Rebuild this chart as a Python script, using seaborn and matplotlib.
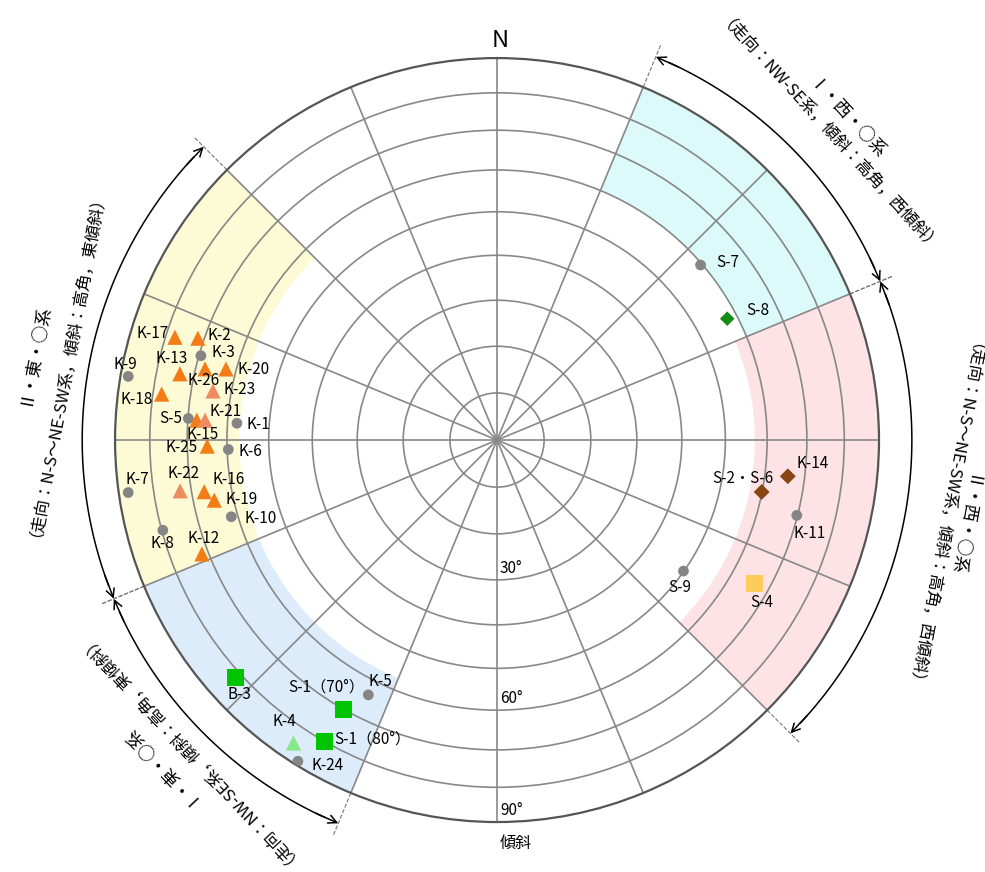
# -*- coding: utf-8 -*-
"""
節理方位の下半球等積投影（シュミットネット）
"""
import numpy as np
import pandas as pd
import matplotlib
matplotlib.use("Agg")
import matplotlib.pyplot as plt
import seaborn as sns

# ===================== 1. データ =====================
names = ["K-17", "K-2", "K-3", "K-13", "K-26", "K-20", "K-23", "K-9", "K-18", "S-5",
         "K-15", "K-21", "K-1", "K-25", "K-6", "K-7", "K-22", "K-16", "K-19", "K-10",
         "K-8", "K-12", "S-7", "S-8", "K-14", "S-2・S-6", "K-11", "S-9", "S-4", "B-3",
         "K-5", "S-1（70°）", "K-4", "S-1（80°）", "K-24"]
azimuth = [287.7, 288.8, 285.9, 281.8, 283.7, 284.7, 279.8, 279.8, 277.8, 274.0,
           273.8, 273.9, 273.7, 268.8, 268.0, 261.9, 260.9, 260.0, 258.0, 253.9,
           254.9, 248.9, 49.3, 62.2, 97.1, 101.1, 104.1, 125.1, 119.1, 227.8,
           206.8, 209.7, 213.9, 209.8, 211.8]
dip = [77.5, 71.6, 69.5, 73.7, 67.6, 62.5, 64.5, 87.7, 77.6, 69.9,
       67.7, 65.6, 57.7, 64.9, 59.7, 87.2, 72.9, 66.8, 64.7, 61.6,
       79.7, 71.7, 59.6, 57.6, 65.7, 59.9, 69.8, 49.9, 66.1, 81.8,
       63.8, 70.1, 85.0, 80.1, 88.8]
kind = ["tri_o", "tri_o", "dot", "tri_o", "tri_o", "tri_o", "tri_s", "dot", "tri_o", "dot",
        "tri_o", "tri_s", "dot", "tri_o", "dot", "dot", "tri_s", "tri_o", "tri_o", "dot",
        "dot", "tri_o", "dot", "dia_g", "dia_b", "dia_b", "dot", "dot", "sq_y", "sq_g",
        "dot", "sq_g", "tri_lg", "sq_g", "dot"]

# 区分（方位範囲と傾斜下限）
sector_start = [22.5, 67.5, 247.5, 202.5]
sector_end = [67.5, 135.0, 315.0, 247.5]
sector_min_dip = [60, 57, 57, 57]
sector_colors = ["#dcfafa", "#fde2e6", "#fdfbd6", "#dcecfb"]
sector_line1 = ["Ⅰ・西・○系", "Ⅱ・西・○系", "Ⅱ・東・○系", "Ⅰ・東・○系"]
sector_line2 = ["（走向：NW-SE系，傾斜：高角，西傾斜）",
                "（走向：N-S〜NE-SW系，傾斜：高角，西傾斜）",
                "（走向：N-S〜NE-SW系，傾斜：高角，東傾斜）",
                "（走向：NW-SE系，傾斜：高角，東傾斜）"]
label_az = [47.5, 100.5, 280.5, 226.8]

grid_dips = [10, 20, 30, 40, 50, 60, 70, 80]
ring_label_dips = [30, 60, 90]


def to_r(d):
    # 等積投影
    return np.sqrt(2) * np.sin(np.deg2rad(np.asarray(d, dtype=float)) / 2)


df = pd.DataFrame({"name": names, "az": azimuth, "dip": dip, "kind": kind})
df["theta"] = np.deg2rad(df["az"])
df["r"] = to_r(df["dip"])

# ===================== 2. 描画設定 =====================
plt.rcParams["font.family"] = ["Noto Sans CJK JP", "DejaVu Sans"]

fig = plt.figure(figsize=(9.85, 8.72), dpi=100)
ax = fig.add_axes([0.1168, 0.0573, 0.7756, 0.8761], projection="polar")
ax.set_theta_zero_location("N")
ax.set_theta_direction(-1)

# 区分の塗り
for s, e, d, c in zip(sector_start, sector_end, sector_min_dip, sector_colors):
    r0 = to_r(d)
    ax.bar(np.deg2rad((s + e) / 2), 1 - r0, width=np.deg2rad(e - s), bottom=r0,
           color=c, edgecolor="none", zorder=0.5)

# 点
palette = {"dot": "#858585", "tri_o": "#f47c16", "tri_s": "#ef8b60",
           "dia_g": "#148c14", "dia_b": "#8a4512", "sq_y": "#ffcb5a",
           "sq_g": "#00c400", "tri_lg": "#86e886"}
markers = {"dot": "o", "tri_o": "^", "tri_s": "^", "dia_g": "D", "dia_b": "D",
           "sq_y": "s", "sq_g": "s", "tri_lg": "^"}
sizes = {"dot": 60, "tri_o": 120, "tri_s": 120, "dia_g": 55, "dia_b": 65,
         "sq_y": 150, "sq_g": 150, "tri_lg": 120}
sns.scatterplot(data=df, x="theta", y="r", hue="kind", style="kind", size="kind",
                palette=palette, markers=markers, sizes=sizes, linewidth=0,
                legend=False, ax=ax, zorder=3)

# 点ラベル（ピクセル単位のずらし）
offsets = {"K-17": (-22, 4), "K-2": (21, 3), "K-3": (22, 3), "K-13": (-8, 15),
           "K-26": (-2, -12), "K-20": (28, -1), "K-23": (27, 1), "K-9": (-3, 12),
           "K-18": (-25, -5), "S-5": (-18, 0), "K-15": (6, -14), "K-21": (20, 9),
           "K-1": (21, -1), "K-25": (-26, -1), "K-6": (22, -2), "K-7": (9, 13),
           "K-22": (3, 17), "K-16": (24, 12), "K-19": (27, 1), "K-10": (29, -2),
           "K-8": (0, -13), "K-12": (2, 15), "S-7": (27, 2), "S-8": (31, 8),
           "K-14": (25, 13), "S-2・S-6": (-19, 13), "K-11": (13, -18), "S-9": (-4, -16),
           "S-4": (7, -19), "B-3": (4, -17), "K-5": (12, 13), "S-1（70°）": (-17, 23),
           "K-4": (-9, 21), "S-1（80°）": (48, 3), "K-24": (30, -4)}
for _, row in df.iterrows():
    ax.annotate(row["name"], xy=(row["theta"], row["r"]), xytext=offsets[row["name"]],
                textcoords="offset pixels", ha="center", va="center", fontsize=11,
                zorder=4)

# 外側の破線・矢印・説明文
arc_r = 1.086
for s, e in zip(sector_start, sector_end):
    for a in (s, e):
        ax.plot([np.deg2rad(a)] * 2, [1.0, 1.12], ls="--", lw=0.8, color="#777777",
                clip_on=False, zorder=2)
    th = np.deg2rad(np.linspace(s + 2, e - 2, 100))
    ax.plot(th, np.full_like(th, arc_r), color="black", lw=1.1, clip_on=False)
    for a, d in ((s, 1), (e, -1)):
        ax.annotate("", xy=(np.deg2rad(a), arc_r),
                    xytext=(np.deg2rad(a) + d * 0.06, arc_r),
                    arrowprops=dict(arrowstyle="->,head_length=0.6,head_width=0.3",
                                    lw=1.1, color="black", shrinkA=0, shrinkB=0),
                    annotation_clip=False)

for az, t1, t2 in zip(label_az, sector_line1, sector_line2):
    rot = -az
    ax.text(np.deg2rad(az), 1.235, t1, rotation=rot, rotation_mode="anchor",
            ha="center", va="center", fontsize=12.5)
    ax.text(np.deg2rad(az), 1.165, t2, rotation=rot, rotation_mode="anchor",
            ha="center", va="center", fontsize=12)

# 目盛り・格子
ax.set_xticks(np.deg2rad(np.arange(0, 360, 22.5)))
ax.set_xticklabels([])
ax.set_yticks(to_r(grid_dips))
ax.set_yticklabels([])
ax.grid(True, color="#888888", lw=1.2)
ax.spines["polar"].set_color("#555555")
ax.spines["polar"].set_linewidth(1.6)
ax.set_xlabel("")
ax.set_ylabel("")
ax.set_ylim(0, 1)

for d in ring_label_dips:
    ax.annotate(f"{d}°", xy=(np.pi, to_r(d)), xytext=(3, 3), textcoords="offset pixels",
                ha="left", va="bottom", fontsize=11)
ax.annotate("N", xy=(0, 1), xytext=(3, 18), textcoords="offset pixels",
            ha="center", va="center", fontsize=17)
ax.annotate("傾斜", xy=(np.pi, 1), xytext=(19, -21), textcoords="offset pixels",
            ha="center", va="center", fontsize=11.5)

fig.savefig("out.png", dpi=100)
